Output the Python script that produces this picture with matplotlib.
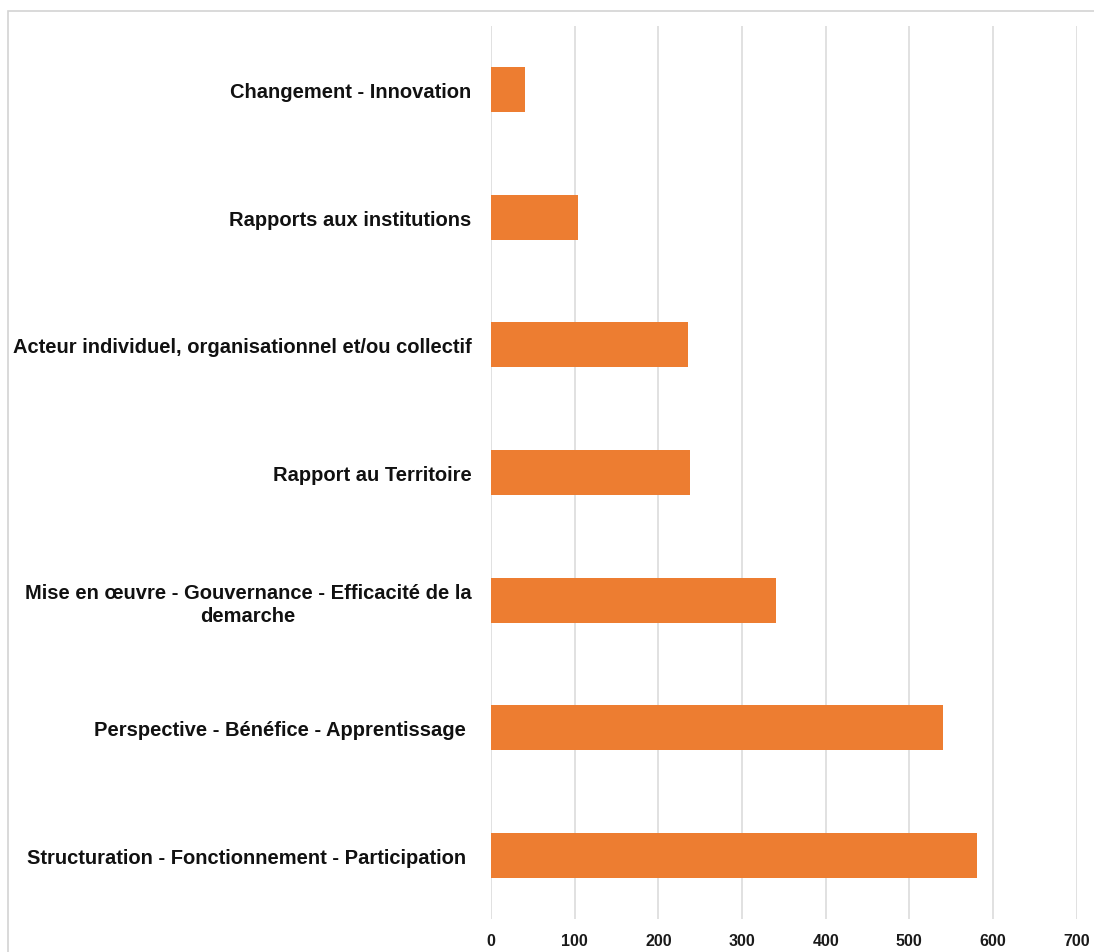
import matplotlib
matplotlib.use("Agg")
import matplotlib.pyplot as plt
from matplotlib.patches import Rectangle

# Categories listed top to bottom
categories = [
    "Changement - Innovation",
    "Rapports aux institutions",
    "Acteur individuel, organisationnel et/ou collectif",
    "Rapport au Territoire",
    "Mise en œuvre - Gouvernance - Efficacité de la\ndemarche",
    "Perspective - Bénéfice - Apprentissage ",
    "Structuration - Fonctionnement - Participation ",
]
counts = [41, 104, 236, 238, 341, 540, 581]
x_ticks = [0, 100, 200, 300, 400, 500, 600, 700]

BAR_COLOR = "#ED7D31"
GRID_COLOR = "#D9D9D9"

plt.rcParams["font.family"] = ["Liberation Sans", "DejaVu Sans"]

W, H = 1094, 953
fig = plt.figure(figsize=(W / 100, H / 100), dpi=100)
fig.patch.set_facecolor("white")

# Light frame around the chart area (top and left edges visible)
frame = Rectangle((7.5 / W, -0.1), 1.2, 1 - 11.5 / H + 0.1,
                  transform=fig.transFigure, fill=False,
                  edgecolor="#D3D3D3", linewidth=1.2)
fig.add_artist(frame)

ax = fig.add_axes([491 / W, 1 - 920 / H, (1076.7 - 491) / W, (920 - 27) / H])

positions = list(range(len(categories)))
ax.barh(positions, counts, height=0.353, color=BAR_COLOR, zorder=3)

ax.set_xlim(0, 700)
ax.set_ylim(len(categories) - 0.5, -0.5)
ax.set_xticks(x_ticks)
ax.set_xticklabels([str(t) for t in x_ticks], fontsize=11.5,
                   fontweight="bold", color="#1a1a1a")
ax.set_yticks(positions)
ax.set_yticklabels(categories, fontsize=14.5, fontweight="bold",
                   color="#111111", multialignment="center",
                   linespacing=1.25)

ax.tick_params(axis="x", length=0, pad=10)
ax.tick_params(axis="y", length=0, pad=14)

ax.grid(axis="x", color=GRID_COLOR, linewidth=1.1, zorder=0)
ax.grid(axis="y", visible=False)
for spine in ax.spines.values():
    spine.set_visible(False)

fig.savefig("out.png", dpi=100, facecolor="white")
